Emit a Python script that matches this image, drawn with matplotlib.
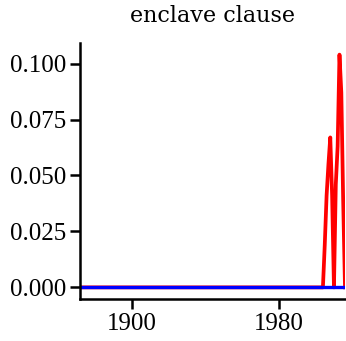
import numpy as np
import matplotlib
matplotlib.use('Agg')
import matplotlib.pyplot as plt

# Data: yearly relative frequency
years = list(range(1872, 2017))
red_years = [2004, 2005, 2006, 2007, 2008, 2009, 2010, 2011, 2012, 2013, 2014, 2015, 2016]
red_vals = [0.0, 0.019, 0.041, 0.055, 0.067, 0.041, 0.0, 0.046, 0.063, 0.104, 0.087, 0.039, 0.0]
blue_vals = [0.0] * len(years)

red_series = dict(zip(red_years, red_vals))
red_full = [red_series.get(y, 0.0) for y in years]

plt.rcParams['font.family'] = ['Liberation Serif', 'DejaVu Serif']

fig = plt.figure(figsize=(3.46, 3.41), dpi=100)
ax = fig.add_axes([80/346, 1 - 299/341, 265/346, 256/341])

ax.plot(years, red_full, color='#ff0000', linewidth=2.7)
ax.plot(years, blue_vals, color='#0000ff', linewidth=2.4)

ax.set_xlim(years[0], years[-1])
ax.set_xticks([1900, 1980])
ax.set_yticks([0.0, 0.025, 0.05, 0.075, 0.1])
ax.set_yticklabels(['0.000', '0.025', '0.050', '0.075', '0.100'])

for s in ['top', 'right']:
    ax.spines[s].set_visible(False)
for s in ['left', 'bottom']:
    ax.spines[s].set_linewidth(1.8)
ax.tick_params(width=1.8, length=7, labelsize=18, colors='black', pad=3)

ax.set_title('enclave clause', fontsize=16, pad=15, family='DejaVu Serif')

fig.savefig('out.png', dpi=100)
